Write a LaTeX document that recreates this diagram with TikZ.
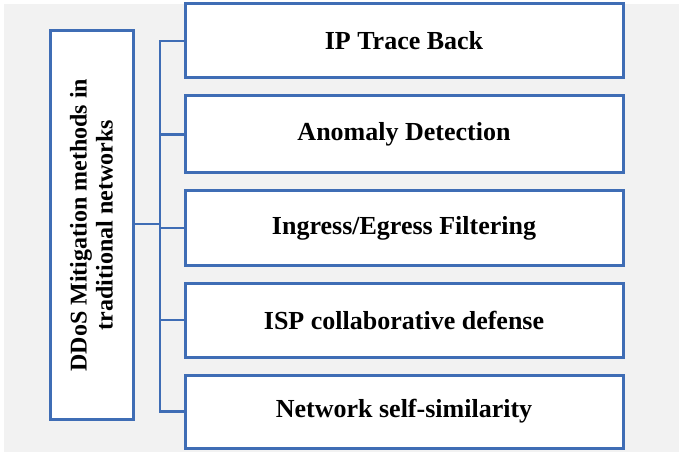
\documentclass[tikz,border=0pt]{standalone}
\usepackage{fontspec}
\setmainfont{Liberation Serif}
\definecolor{bord}{HTML}{3F6DB5}
\definecolor{bg}{HTML}{F2F2F2}
\begin{document}
\begin{tikzpicture}[x=1pt,y=-1pt,
  box/.style={draw=bord,line width=3pt,fill=white,inner sep=0pt,font=\bfseries\fontsize{26}{30}\selectfont},
  conn/.style={draw=bord,line width=2.5pt}]
\useasboundingbox (0,0) rectangle (679,454);
\fill[bg] (4,4) rectangle (679,452);
\node[box,minimum width=83pt,minimum height=388pt] (main) at (91.5,225) {};
\node[rotate=90,font=\bfseries\fontsize{24}{26}\selectfont,align=center,inner sep=0pt] (maintxt) at (main.center) {DDoS Mitigation methods in\\traditional networks};
\node[box,minimum width=438pt,minimum height=74pt] (b1) at (404,41) {IP Trace Back};
\node[box,minimum width=438pt,minimum height=77pt] (b2) at (404,134.5) {Anomaly Detection};
\node[box,minimum width=438pt,minimum height=74pt] (b3) at (404,228) {Ingress/Egress Filtering};
\node[box,minimum width=438pt,minimum height=74pt] (b4) at (404,320) {ISP collaborative defense};
\node[box,minimum width=438pt,minimum height=73pt] (b5) at (404,411.5) {Network self-similarity};
\coordinate (tr) at (160,224);
\draw[conn] (main.east |- tr) -- (tr);
\draw[conn,line cap=rect] (b1.west) -- (tr |- b1.west) -- (tr |- b5.west) -- (b5.west);
\draw[conn] (tr |- b2.west) -- (b2.west);
\draw[conn] (tr |- b3.west) -- (b3.west);
\draw[conn] (tr |- b4.west) -- (b4.west);
\end{tikzpicture}
\end{document}
